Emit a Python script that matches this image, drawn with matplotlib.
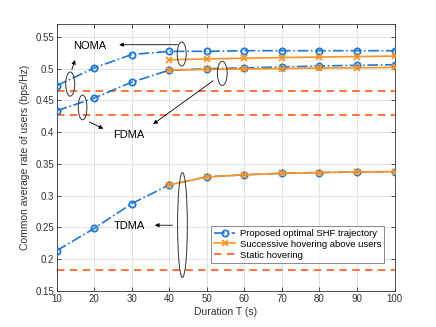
import numpy as np
import matplotlib
matplotlib.use('Agg')
import matplotlib.pyplot as plt
from matplotlib.patches import Ellipse

plt.rcParams['font.family'] = ['Liberation Sans', 'DejaVu Sans']

# data
T = [10, 20, 30, 40, 50, 60, 70, 80, 90, 100]
T_hover = [40, 50, 60, 70, 80, 90, 100]

noma_prop = [0.473, 0.501, 0.522, 0.527, 0.527, 0.528, 0.528, 0.528, 0.528, 0.528]
fdma_prop = [0.4335, 0.4535, 0.4785, 0.4975, 0.4995, 0.501, 0.5025, 0.504, 0.505, 0.506]
tdma_prop = [0.2135, 0.2485, 0.2875, 0.317, 0.3295, 0.3328, 0.3352, 0.3364, 0.3372, 0.3378]

noma_hover = [0.5138, 0.5150, 0.5162, 0.5172, 0.5180, 0.5188, 0.5195]
fdma_hover = [0.4975, 0.4985, 0.4993, 0.5000, 0.5007, 0.5012, 0.5017]
tdma_hover = [0.317, 0.3295, 0.3328, 0.3352, 0.3364, 0.3372, 0.3378]

noma_static = 0.464
fdma_static = 0.4272
tdma_static = 0.183

blue = '#1f78d1'
orange = '#ff9224'
red = '#ff5a1f'

fig = plt.figure(figsize=(4.36, 3.27), dpi=100)
ax = fig.add_axes([0.130, 0.110, 0.775, 0.8166])

for y in [noma_static, fdma_static, tdma_static]:
    ax.axhline(y, color=red, ls=(0, (4.5, 3.2)), lw=1.2, zorder=2)

for y in [noma_prop, fdma_prop, tdma_prop]:
    ax.plot(T, y, color=blue, ls='-.', lw=1.2, marker='o', ms=4.5,
            mfc='none', mew=1.3, zorder=3)

for y in [noma_hover, fdma_hover, tdma_hover]:
    ax.plot(T_hover, y, color=orange, ls='-', lw=1.2, marker='x', ms=4,
            mew=1.3, zorder=4)

ax.set_xlim(10, 100)
ax.set_ylim(0.15, 0.57)
ax.set_xticks(T)
ax.set_yticks([0.15, 0.2, 0.25, 0.3, 0.35, 0.4, 0.45, 0.5, 0.55])
ax.set_yticklabels(['0.15', '0.2', '0.25', '0.3', '0.35', '0.4', '0.45', '0.5', '0.55'])
ax.grid(True, color='#e3e3e3', lw=0.7)
ax.set_axisbelow(True)
ax.tick_params(direction='in', top=True, right=True, labelsize=7, length=3,
               color='#333333', width=0.6, pad=2, labelcolor='#333333')
for s in ax.spines.values():
    s.set_color('#333333')
    s.set_linewidth(0.6)
ax.set_xlabel('Duration T (s)', fontsize=7.5, color='#333333', labelpad=2)
ax.set_ylabel('Common average rate of users (bps/Hz)', fontsize=7.5,
              color='#333333', labelpad=4)

# ellipses
ells = [(13.6, 0.4755, 2.4, 0.038), (16.9, 0.4388, 2.3, 0.039),
        (43.3, 0.5228, 2.4, 0.038), (54.1, 0.4924, 2.6, 0.038),
        (43.5, 0.2538, 2.6, 0.165)]
for cx, cy, w, h in ells:
    ax.add_patch(Ellipse((cx, cy), w, h, fill=False, ec='#333333', lw=0.7, zorder=5))

ap = dict(arrowstyle='-|>', color='black', lw=0.6, mutation_scale=6)
ax.text(18.9, 0.5354, 'NOMA', fontsize=8, ha='center', va='center')
ax.annotate('', xy=(25.9, 0.5374), xytext=(42.9, 0.5374), arrowprops=ap)
ax.annotate('', xy=(15.1, 0.5176), xytext=(13.8, 0.494), arrowprops=ap)
ax.text(29.1, 0.3952, 'FDMA', fontsize=8, ha='center', va='center')
ax.annotate('', xy=(23.1, 0.4035), xytext=(18.05, 0.4177), arrowprops=ap)
ax.annotate('', xy=(35.1, 0.4100), xytext=(52.3, 0.4834), arrowprops=ap)
ax.text(29.3, 0.2524, 'TDMA', fontsize=8, ha='center', va='center')
ax.annotate('', xy=(35.4, 0.2535), xytext=(41.6, 0.2535), arrowprops=ap)

h = ax.get_lines()
leg = ax.legend([h[3], h[6], h[0]],
                ['Proposed optimal SHF trajectory', 'Successive hovering above users',
                 'Static hovering'],
                loc='lower right', bbox_to_anchor=(0.97, 0.105), borderaxespad=0,
                fontsize=6.8, frameon=True, fancybox=False, edgecolor='#555555',
                handlelength=2.2, labelspacing=0.2, borderpad=0.35, handletextpad=0.5)
leg.get_frame().set_linewidth(0.6)

fig.savefig('out.png', dpi=100)
